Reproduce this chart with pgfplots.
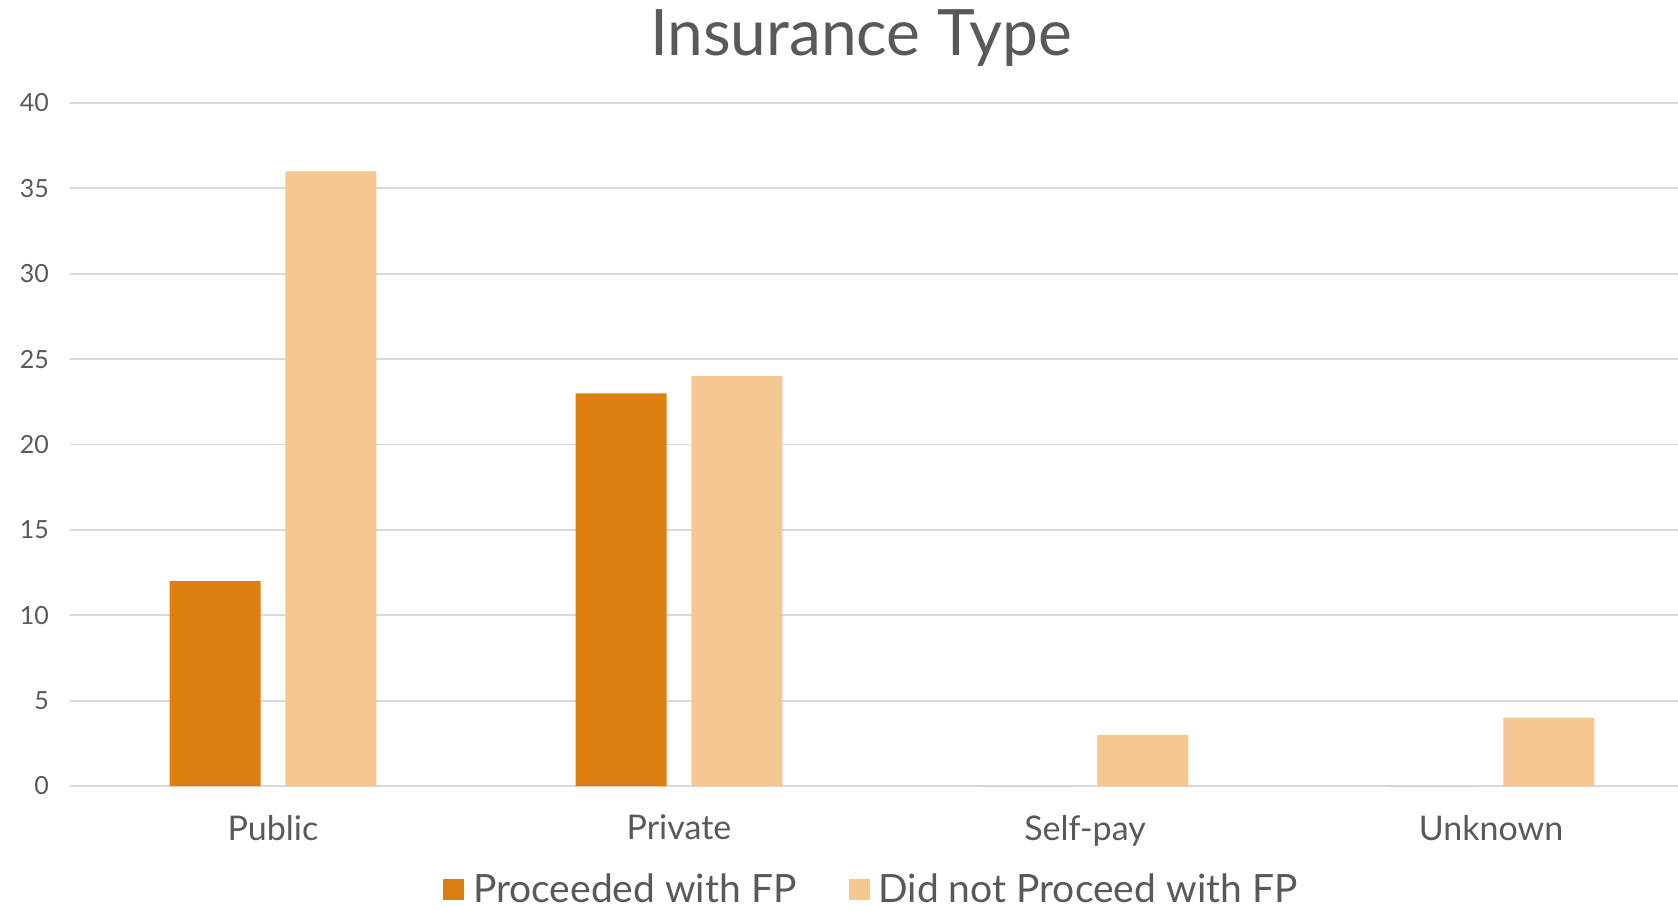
\documentclass[border=0pt]{standalone}
\usepackage{pgfplots}
\pgfplotsset{compat=1.18}
\usepackage{fontspec}
\setmainfont{Lato}
\definecolor{darkor}{HTML}{DE7E0F}
\definecolor{lightor}{HTML}{F6C891}
\definecolor{gridg}{HTML}{D9D9D9}
\definecolor{txt}{HTML}{595959}
\begin{document}
\begin{tikzpicture}
\path[use as bounding box] (0,0) rectangle (839pt,455.5pt);
\begin{axis}[
  at={(35pt,62.5pt)}, anchor=south west,
  scale only axis, width=812pt, height=341.5pt,
  ymin=0, ymax=40, ytick={0,5,...,40},
  xmin=-0.5, xmax=3.5,
  xtick=data, xticklabels={Public,Private,Self-pay,Unknown},
  axis line style={draw=none},
  major tick length=0pt,
  ymajorgrids, grid style={gridg, line width=0.9pt},
  /pgf/number format/assume math mode=true,
  yticklabel style={font=\fontsize{12.5}{14}\selectfont, text=txt, anchor=east, xshift=-7pt},
  xticklabel style={font=\fontsize{17}{19}\selectfont, text=txt, yshift=-11pt},
  ybar, bar width=45.5pt,
  legend columns=2,
  legend style={at={(0.494,-0.152)}, anchor=center, draw=none, fill=none,
    font=\fontsize{19.5}{22}\selectfont, text=txt,
    /tikz/every even column/.append style={column sep=24pt}},
  legend image code/.code={\fill[#1] (0pt,-5.25pt) rectangle (10.5pt,5.25pt);\path (10.5pt,0) -- (13pt,0);},
]
\addplot[fill=darkor, draw=none, bar shift=-28.9pt] coordinates {(0,12) (1,23) (2,0) (3,0)};
\addlegendentry{Proceeded with FP}
\addplot[fill=lightor, draw=none, bar shift=28.9pt] coordinates {(0,36) (1,24) (2,3) (3,4)};
\addlegendentry{Did not Proceed with FP}
\end{axis}
\node[anchor=base, text=txt, font=\fontsize{32}{36}\selectfont] at (430.5pt,427.7pt) {Insurance Type};
\end{tikzpicture}
\end{document}
